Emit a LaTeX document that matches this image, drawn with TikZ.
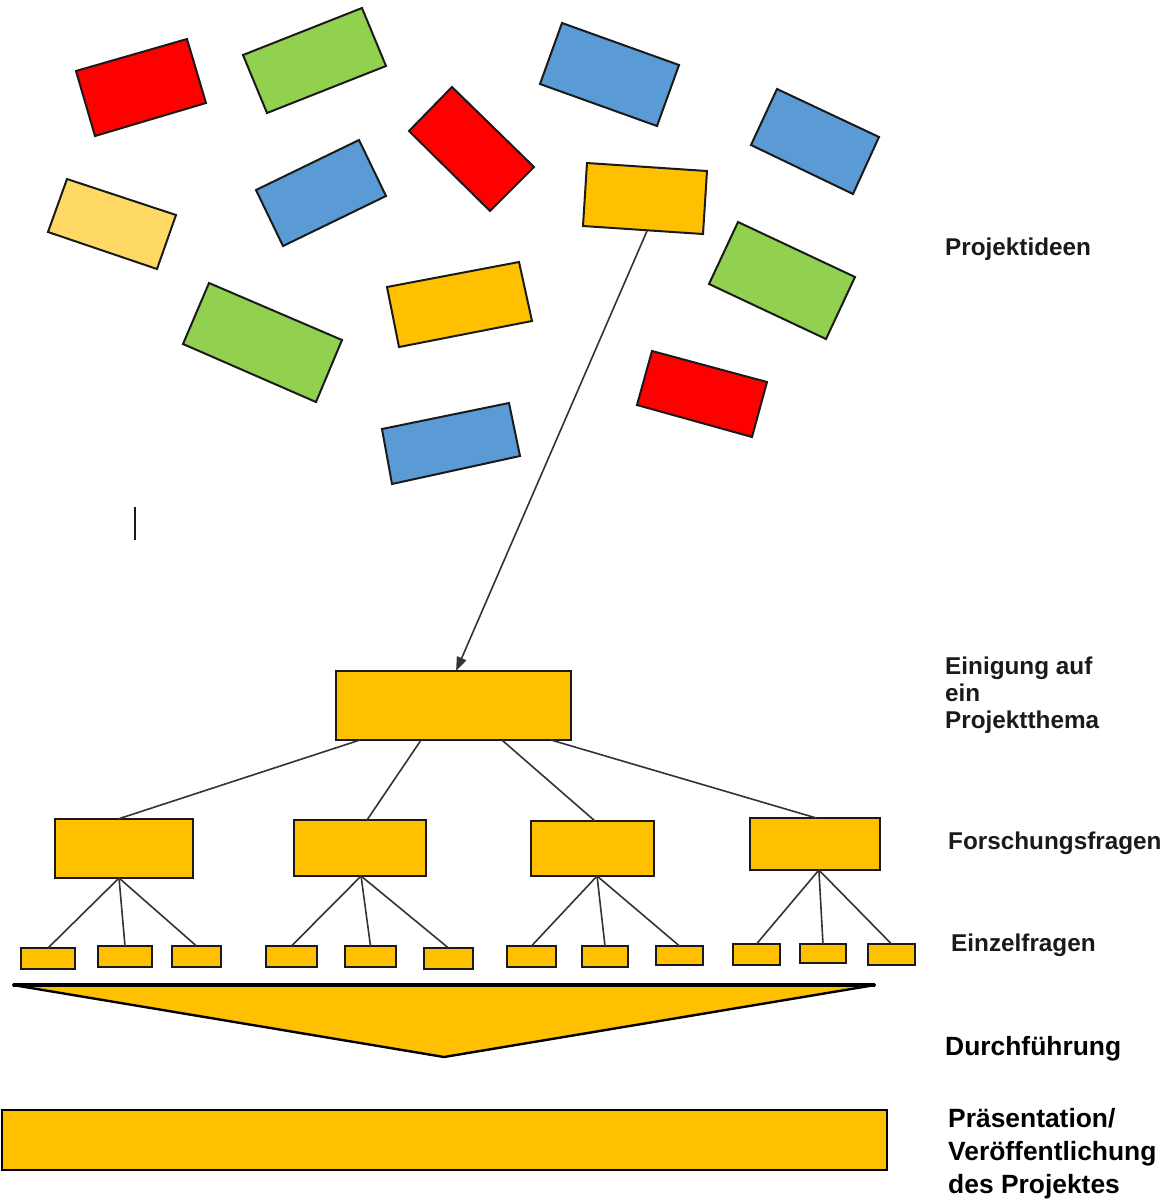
\documentclass[tikz,border=0pt]{standalone}
\usepackage{fontspec}
\setmainfont{Liberation Sans}
\usetikzlibrary{calc,arrows.meta}
\definecolor{cRed}{HTML}{FF0000}
\definecolor{cGreen}{HTML}{92D050}
\definecolor{cBlue}{HTML}{5B9BD5}
\definecolor{cPale}{HTML}{FFD966}
\definecolor{cGold}{HTML}{FFC000}
\definecolor{cInk}{HTML}{1A1A1A}
\begin{document}
\begin{tikzpicture}[x=1pt,y=-1pt,
  idea/.style={draw=cInk, line width=2pt, line join=miter},
  box/.style={draw=cInk, fill=cGold, line width=2pt, inner sep=0pt, outer sep=0pt},
  link/.style={draw=black!80, line width=1.6pt},
  lbl/.style={anchor=base west, inner sep=0pt, text=cInk, font=\bfseries\fontsize{24.3}{27}\selectfont},
  lblbig/.style={anchor=base west, inner sep=0pt, text=black, font=\bfseries\fontsize{26.4}{33}\selectfont}]

\useasboundingbox (0,0) rectangle (1163,1203);

% ---- project ideas (scattered cards) ----
\draw[idea, fill=cRed]   (76,71) -- (187,39) -- (206,103) -- (95,136) -- cycle;
\draw[idea, fill=cGreen] (243,55) -- (362,8) -- (386,66) -- (267,113) -- cycle;
\draw[idea, fill=cPale]  (67,179) -- (176,215) -- (157,269) -- (48,232) -- cycle;
\draw[idea, fill=cBlue]  (256,190) -- (359,140) -- (386,196) -- (283,246) -- cycle;
\draw[idea, fill=cGreen] (209,283) -- (342,340) -- (316,402) -- (183,344) -- cycle;
\draw[idea, fill=cBlue]  (562,23) -- (679,65) -- (657,126) -- (540,84) -- cycle;
\draw[idea, fill=cRed]   (452,87) -- (534,167) -- (490,211) -- (409,131) -- cycle;
\draw[idea, fill=cGold]  (587,163) -- (707,171) -- (703,234) -- (583,226) -- cycle;
\draw[idea, fill=cBlue]  (777,89) -- (879,137) -- (853,194) -- (751,145) -- cycle;
\draw[idea, fill=cGold]  (387,287) -- (519,262) -- (532,321) -- (399,347) -- cycle;
\draw[idea, fill=cGreen] (738,222) -- (855,277) -- (826,339) -- (709,284) -- cycle;
\draw[idea, fill=cRed]   (652,351) -- (767,382) -- (752,437) -- (637,405) -- cycle;
\draw[idea, fill=cBlue]  (382,429) -- (509,403) -- (520,456) -- (392,484) -- cycle;
\coordinate (src) at (647,231);

% small stray vertical stroke
\draw[cInk, line width=1.8pt] (135,507) -- (135,540);

% ---- hierarchy ----
\node[box, minimum width=235, minimum height=69] (ein) at (453.5,705.5) {};

\node[box, minimum width=138, minimum height=59] (f1) at (124,848.5) {};
\node[box, minimum width=132, minimum height=56] (f2) at (360,848) {};
\node[box, minimum width=123, minimum height=55] (f3) at (592.5,848.5) {};
\node[box, minimum width=130, minimum height=52] (f4) at (815,844) {};

\node[box, minimum width=54, minimum height=21] (e11) at (48,958.5) {};
\node[box, minimum width=54, minimum height=21] (e12) at (125,956.5) {};
\node[box, minimum width=49, minimum height=21] (e13) at (196.5,956.5) {};
\node[box, minimum width=51, minimum height=21] (e21) at (291.5,956.5) {};
\node[box, minimum width=51, minimum height=21] (e22) at (370.5,956.5) {};
\node[box, minimum width=49, minimum height=21] (e23) at (448.5,958.5) {};
\node[box, minimum width=49, minimum height=21] (e31) at (531.5,956.5) {};
\node[box, minimum width=46, minimum height=21] (e32) at (605,956.5) {};
\node[box, minimum width=47, minimum height=19] (e33) at (679.5,955.5) {};
\node[box, minimum width=47, minimum height=21] (e41) at (756.5,954.5) {};
\node[box, minimum width=46, minimum height=19] (e42) at (823,953.5) {};
\node[box, minimum width=47, minimum height=21] (e43) at (891.5,954.5) {};

% arrow from chosen idea to topic
\draw[link, -{Triangle[length=14pt,width=10pt]}] (src) -- ($(ein.north west)!0.511!(ein.north east)$);

% topic -> research questions
\draw[link] ($(ein.south west)!0.102!(ein.south east)$) -- ($(f1.north west)!0.457!(f1.north east)$);
\draw[link] ($(ein.south west)!0.362!(ein.south east)$) -- ($(f2.north west)!0.553!(f2.north east)$);
\draw[link] ($(ein.south west)!0.706!(ein.south east)$) -- ($(f3.north west)!0.52!(f3.north east)$);
\draw[link] ($(ein.south west)!0.915!(ein.south east)$) -- ($(f4.north west)!0.51!(f4.north east)$);

% research questions -> single questions
\coordinate (b1) at ($(f1.south west)!0.464!(f1.south east)$);
\coordinate (b2) at ($(f2.south west)!0.508!(f2.south east)$);
\coordinate (b3) at ($(f3.south west)!0.537!(f3.south east)$);
\coordinate (b4) at ($(f4.south west)!0.53!(f4.south east)$);
\draw[link] (b1) -- (e11.north); \draw[link] (b1) -- (e12.north); \draw[link] (b1) -- (e13.north);
\draw[link] (b2) -- (e21.north); \draw[link] (b2) -- (e22.north); \draw[link] (b2) -- (e23.north);
\draw[link] (b3) -- (e31.north); \draw[link] (b3) -- (e32.north); \draw[link] (b3) -- (e33.north);
\draw[link] (b4) -- (e41.north); \draw[link] (b4) -- (e42.north); \draw[link] (b4) -- (e43.north);

% funnel (Durchfuehrung)
\draw[fill=cGold, draw=black, line width=2.4pt, line join=round] (13,985) -- (875,985) -- (444,1057) -- cycle;
\draw[black, line width=3.2pt] (13,985) -- (875,985);

% presentation bar
\node[box, draw=black, line width=2.6pt, minimum width=885, minimum height=60] (pres) at (444.5,1140) {};

% ---- labels ----
\node[lbl] (tIdeen) at (945,255) {Projektideen};
\node[lbl] (tEin1) at (945,674) {Einigung auf};
\node[lbl] (tEin2) at (945,701) {ein};
\node[lbl] (tEin3) at (945,728) {Projektthema};
\node[lbl] (tForsch) at (948,849) {Forschungsfragen};
\node[lbl] (tEinzel) at (951,951) {Einzelfragen};
\node[lblbig] (tDurch) at (945,1055) {Durchführung};
\node[lblbig] (tPres1) at (948,1127) {Präsentation/};
\node[lblbig] (tPres2) at (948,1160) {Veröffentlichung};
\node[lblbig] (tPres3) at (948,1193) {des Projektes};
\end{tikzpicture}
\end{document}
